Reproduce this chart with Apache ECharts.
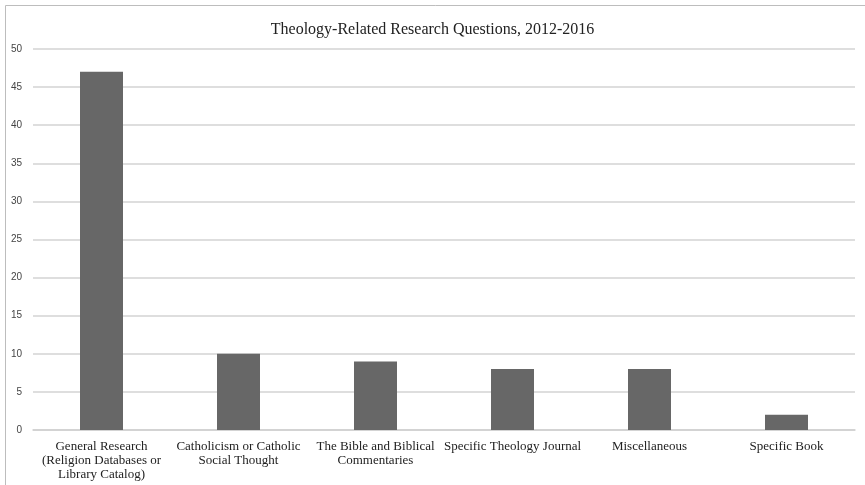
<!DOCTYPE html>
<html>
<head>
<meta charset="utf-8">
<script src="https://cdn.jsdelivr.net/npm/echarts@6/dist/echarts.min.js"></script>
<style>
  html, body { margin: 0; padding: 0; background: #fff; }
  #chart { width: 865px; height: 485px; }
</style>
</head>
<body>
<div id="chart"></div>
<script>
  // chart data
  const categories = [
    'General Research\n(Religion Databases or\nLibrary Catalog)',
    'Catholicism or Catholic\nSocial Thought',
    'The Bible and Biblical\nCommentaries',
    'Specific Theology Journal',
    'Miscellaneous',
    'Specific Book'
  ]
  const questionCounts = [47, 10, 9, 8, 8, 2]

  const chart = echarts.init(document.getElementById('chart'))
  chart.setOption({
    animation: false,
    title: {
      text: 'Theology-Related Research Questions, 2012-2016',
      left: 'center',
      top: 17,
      textStyle: {
        fontFamily: 'Liberation Serif',
        fontWeight: 'normal',
        fontSize: 16,
        color: '#222'
      }
    },
    // outer frame, only top and left edges show in the picture
    graphic: [{
      type: 'polyline',
      shape: { points: [[5.5, 490], [5.5, 5.5], [870, 5.5]] },
      style: { fill: null, stroke: '#bdbdbd', lineWidth: 1 },
      silent: true
    }],
    grid: {
      left: 33,
      right: 10,
      top: 49,
      bottom: 55
    },
    xAxis: {
      type: 'category',
      data: categories,
      axisTick: { show: false },
      axisLine: { lineStyle: { color: '#d0d0d0', width: 1.5 } },
      axisLabel: {
        interval: 0,
        margin: 10,
        lineHeight: 14,
        fontFamily: 'Liberation Serif',
        fontSize: 13,
        color: '#222'
      }
    },
    yAxis: {
      type: 'value',
      min: 0,
      max: 50,
      interval: 5,
      axisLine: { show: false },
      axisTick: { show: false },
      splitLine: { lineStyle: { color: '#d3d3d3', width: 1.5 } },
      axisLabel: {
        margin: 11,
        fontFamily: 'Liberation Sans',
        fontSize: 10,
        color: '#444'
      }
    },
    series: [{
      type: 'bar',
      data: questionCounts,
      barWidth: 43,
      itemStyle: { color: '#676767' }
    }]
  })
</script>
</body>
</html>
